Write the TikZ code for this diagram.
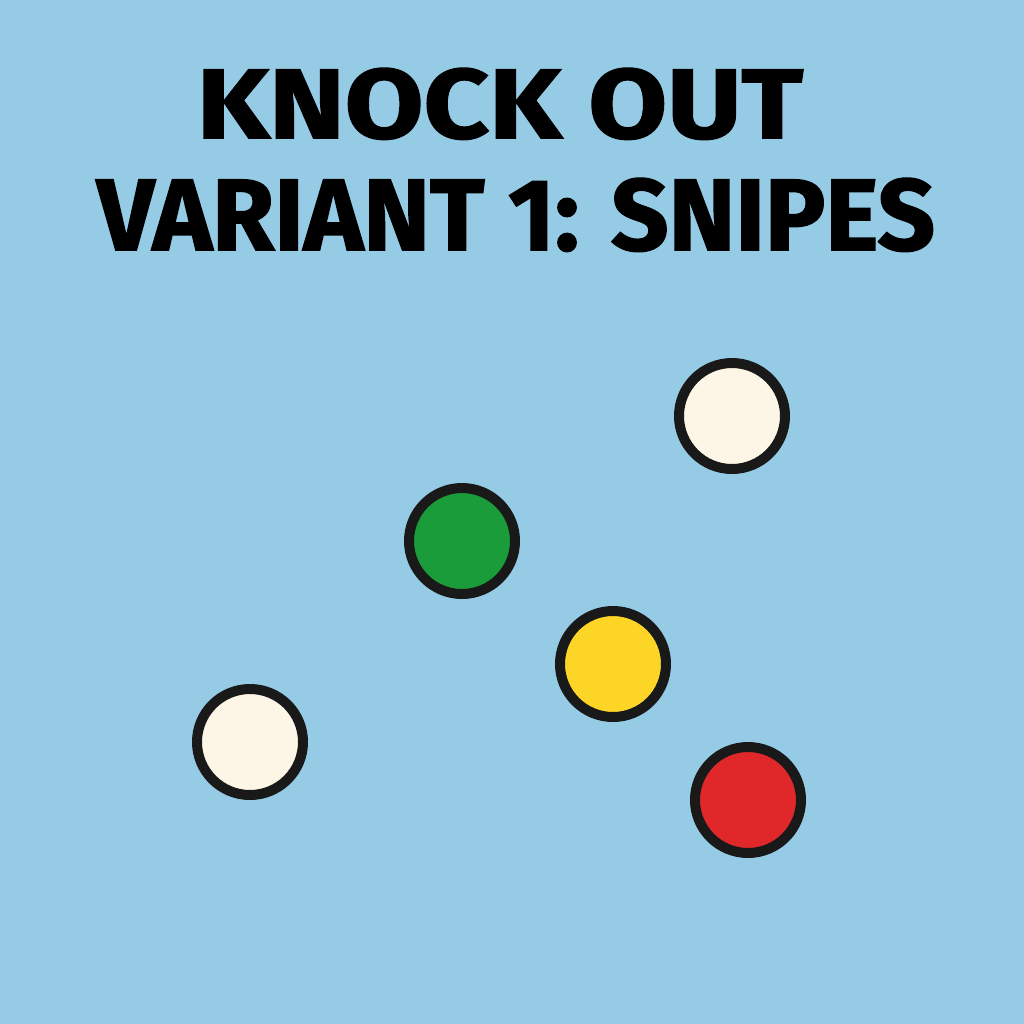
\documentclass[tikz,border=0pt]{standalone}
\usepackage{fontspec}
\usepackage{graphicx}
\newfontfamily\titlefont[BoldFeatures={FakeBold=1.5}]{Fira Sans}
\definecolor{tablecloth}{HTML}{96CBE6}
\definecolor{cueball}{HTML}{FDF5E6}
\definecolor{greenball}{HTML}{1A9C3A}
\definecolor{yellowball}{HTML}{FDD526}
\definecolor{redball}{HTML}{E0282A}
\tikzset{ball/.style={shape=circle, draw=black!90, line width=0.10cm,
		minimum size=1.06cm, inner sep=0pt}}

\begin{document}
\begin{tikzpicture}
				% Background and title:
				\useasboundingbox (0, 0) rectangle (10.24, -10.24);
				\fill[tablecloth] (0, 0) rectangle (10.24, -10.24);
				\node[anchor=base, inner sep=0pt] (title1) at (5.00, -1.38)
				{\resizebox{6.06cm}{0.70cm}{\titlefont\bfseries KNOCK OUT}};
				\node[anchor=base, inner sep=0pt] (title2) at (5.16, -2.50)
				{\resizebox{8.38cm}{0.72cm}{\titlefont\bfseries VARIANT 1: SNIPES}};
				% Balls:
				\node[ball, fill=cueball] (white1) at (7.32, -4.16){};
				\node[ball, fill=greenball] (green) at (4.62, -5.41){};
				\node[ball, fill=yellowball] (yellow) at (6.13, -6.64){};
				\node[ball, fill=cueball] (white2) at (2.50, -7.42){};
				\node[ball, fill=redball] (red) at (7.48, -8.00){};
			\end{tikzpicture}
\end{document}
